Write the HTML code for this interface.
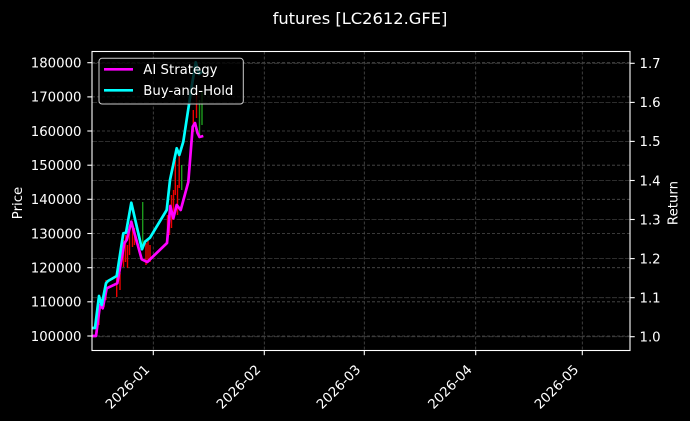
<!DOCTYPE html>
<html><head><meta charset="utf-8"><style>
html,body{margin:0;padding:0;background:#000;}
svg{display:block;font-family:"DejaVu Sans","Liberation Sans",sans-serif;}
</style></head><body>
<svg width="690" height="421" viewBox="0 0 690 421" xmlns="http://www.w3.org/2000/svg">
<rect x="0" y="0" width="690" height="421" fill="#000"/>
<text x="360" y="24" fill="#fff" font-size="16.3" text-anchor="middle">futures [LC2612.GFE]</text>
<defs><clipPath id="ax"><rect x="92" y="51.5" width="538" height="299"/></clipPath></defs>
<!-- grid -->
<g stroke="#4c4c4c" stroke-width="0.8" stroke-dasharray="3,2" fill="none">
<line x1="92" x2="630" y1="62.7" y2="62.7"/><line x1="92" x2="630" y1="96.9" y2="96.9"/>
<line x1="92" x2="630" y1="131" y2="131"/><line x1="92" x2="630" y1="165.2" y2="165.2"/>
<line x1="92" x2="630" y1="199.3" y2="199.3"/><line x1="92" x2="630" y1="233.5" y2="233.5"/>
<line x1="92" x2="630" y1="267.7" y2="267.7"/><line x1="92" x2="630" y1="301.8" y2="301.8"/>
<line x1="92" x2="630" y1="336" y2="336"/>
<line x1="153.3" x2="153.3" y1="51.5" y2="350.5"/><line x1="264.3" x2="264.3" y1="51.5" y2="350.5"/>
<line x1="364.3" x2="364.3" y1="51.5" y2="350.5"/><line x1="475.7" x2="475.7" y1="51.5" y2="350.5"/>
<line x1="582.3" x2="582.3" y1="51.5" y2="350.5"/>
</g>
<g stroke="#3c3c3c" stroke-width="0.8" stroke-dasharray="5,1.5" fill="none">
<line x1="92" x2="630" y1="63.3" y2="63.3"/><line x1="92" x2="630" y1="102.4" y2="102.4"/>
<line x1="92" x2="630" y1="141.4" y2="141.4"/><line x1="92" x2="630" y1="180.5" y2="180.5"/>
<line x1="92" x2="630" y1="219.5" y2="219.5"/><line x1="92" x2="630" y1="258.6" y2="258.6"/>
<line x1="92" x2="630" y1="297.7" y2="297.7"/><line x1="92" x2="630" y1="336.7" y2="336.7"/>
</g>
<g clip-path="url(#ax)">
<!-- candles -->
<g stroke="#ee0000" stroke-width="1.4">
<line x1="97" x2="97" y1="312" y2="333"/><line x1="99" x2="99" y1="305" y2="325"/>
<line x1="104" x2="104" y1="290" y2="307"/><line x1="106" x2="106" y1="280" y2="300"/>
<line x1="116.7" x2="116.7" y1="277" y2="297"/><line x1="120" x2="120" y1="273" y2="290"/>
<line x1="123.5" x2="123.5" y1="240" y2="267"/><line x1="125.5" x2="125.5" y1="235" y2="262"/>
<line x1="127.5" x2="127.5" y1="245" y2="268"/><line x1="129.5" x2="129.5" y1="228" y2="255"/>
<line x1="132.5" x2="132.5" y1="225" y2="247"/><line x1="134.5" x2="134.5" y1="228" y2="245"/>
<line x1="146" x2="146" y1="243" y2="265"/><line x1="148" x2="148" y1="240" y2="260"/>
<line x1="150" x2="150" y1="245" y2="262"/><line x1="167.5" x2="167.5" y1="215" y2="243"/>
<line x1="169.5" x2="169.5" y1="210" y2="235"/><line x1="171.5" x2="171.5" y1="195" y2="228"/>
<line x1="173.5" x2="173.5" y1="190" y2="220"/><line x1="175.3" x2="175.3" y1="160" y2="195"/>
<line x1="177.5" x2="177.5" y1="185" y2="215"/><line x1="179.2" x2="179.2" y1="155" y2="188"/>
<line x1="193.3" x2="193.3" y1="110" y2="132"/><line x1="196.5" x2="196.5" y1="88" y2="118"/>
</g>
<g stroke="#1c9a1c" stroke-width="1.4">
<line x1="142.7" x2="142.7" y1="202" y2="247"/><line x1="181.7" x2="181.7" y1="165" y2="190"/>
<line x1="199.5" x2="199.5" y1="100" y2="135"/><line x1="202" x2="202" y1="92" y2="125"/>
</g>
<polyline fill="none" stroke="#ff00ff" stroke-width="2.7" stroke-linejoin="round" points="92,336 96,336 100,305 102.7,308.3 106.7,288.3 117.3,283.3 124.3,243.3 126.7,240 131.3,221.7 141.7,259.3 147.3,262 167,243 170.3,206 173.3,218.3 176.7,205 180.7,210 188.3,182 192.7,126.7 195,123 197.5,133 199.5,137 203.3,136"/>
<polyline fill="none" stroke="#00ffff" stroke-width="2.7" stroke-linejoin="round" points="92,328 95,328 99,296 101.7,305 106,283.3 108,281 116.7,276 123.3,233.3 126,232.7 131.3,202.7 142,249.3 145,241.7 150,237.7 166.7,210 170,180 176.7,148.3 179.3,155 183.3,141.7 191.7,86.7 195.7,62.3 199,74 203,71"/>
</g>
<!-- legend -->
<rect x="99" y="58.3" width="144.3" height="45.7" rx="3" fill="rgba(0,0,0,0.8)" stroke="#cccccc" stroke-width="1"/>
<line x1="104" x2="133" y1="69.3" y2="69.3" stroke="#ff00ff" stroke-width="2.7"/>
<line x1="104" x2="133" y1="90.3" y2="90.3" stroke="#00ffff" stroke-width="2.7"/>
<text x="143.3" y="74.2" fill="#fff" font-size="13.3">AI Strategy</text>
<text x="143.3" y="95.2" fill="#fff" font-size="13.3">Buy-and-Hold</text>
<!-- spines -->
<rect x="92" y="51.5" width="538" height="299" fill="none" stroke="#fff" stroke-width="1.1"/>
<!-- ticks -->
<g stroke="#fff" stroke-width="1.1">
<line x1="87.3" x2="92" y1="62.7" y2="62.7"/><line x1="87.3" x2="92" y1="96.9" y2="96.9"/>
<line x1="87.3" x2="92" y1="131" y2="131"/><line x1="87.3" x2="92" y1="165.2" y2="165.2"/>
<line x1="87.3" x2="92" y1="199.3" y2="199.3"/><line x1="87.3" x2="92" y1="233.5" y2="233.5"/>
<line x1="87.3" x2="92" y1="267.7" y2="267.7"/><line x1="87.3" x2="92" y1="301.8" y2="301.8"/>
<line x1="87.3" x2="92" y1="336" y2="336"/>
<line x1="630" x2="634.7" y1="63.3" y2="63.3"/><line x1="630" x2="634.7" y1="102.4" y2="102.4"/>
<line x1="630" x2="634.7" y1="141.4" y2="141.4"/><line x1="630" x2="634.7" y1="180.5" y2="180.5"/>
<line x1="630" x2="634.7" y1="219.5" y2="219.5"/><line x1="630" x2="634.7" y1="258.6" y2="258.6"/>
<line x1="630" x2="634.7" y1="297.7" y2="297.7"/><line x1="630" x2="634.7" y1="336.7" y2="336.7"/>
<line x1="153.3" x2="153.3" y1="350.5" y2="355.2"/><line x1="264.3" x2="264.3" y1="350.5" y2="355.2"/>
<line x1="364.3" x2="364.3" y1="350.5" y2="355.2"/><line x1="475.7" x2="475.7" y1="350.5" y2="355.2"/>
<line x1="582.3" x2="582.3" y1="350.5" y2="355.2"/>
</g>
<g fill="#fff" font-size="13.3" text-anchor="end">
<text x="81.5" y="67.5">180000</text><text x="81.5" y="101.7">170000</text>
<text x="81.5" y="135.8">160000</text><text x="81.5" y="170">150000</text>
<text x="81.5" y="204.1">140000</text><text x="81.5" y="238.3">130000</text>
<text x="81.5" y="272.5">120000</text><text x="81.5" y="306.6">110000</text>
<text x="81.5" y="340.8">100000</text>
</g>
<g fill="#fff" font-size="13.3">
<text x="639.5" y="68.1">1.7</text><text x="639.5" y="107.2">1.6</text>
<text x="639.5" y="146.2">1.5</text><text x="639.5" y="185.3">1.4</text>
<text x="639.5" y="224.3">1.3</text><text x="639.5" y="263.4">1.2</text>
<text x="639.5" y="302.5">1.1</text><text x="639.5" y="341.5">1.0</text>
</g>
<g fill="#fff" font-size="13.3" text-anchor="middle">
<text transform="translate(127.3,386.7) rotate(-45)" dy="0.36em">2026-01</text>
<text transform="translate(238.3,386.7) rotate(-45)" dy="0.36em">2026-02</text>
<text transform="translate(338.3,386.7) rotate(-45)" dy="0.36em">2026-03</text>
<text transform="translate(449.7,386.7) rotate(-45)" dy="0.36em">2026-04</text>
<text transform="translate(556.3,386.7) rotate(-45)" dy="0.36em">2026-05</text>
</g>
<text transform="translate(17,203) rotate(-90)" fill="#fff" font-size="13.3" text-anchor="middle" dy="0.36em">Price</text>
<text transform="translate(672.5,203) rotate(-90)" fill="#fff" font-size="13.3" text-anchor="middle" dy="0.36em">Return</text>
</svg>
</body></html>
